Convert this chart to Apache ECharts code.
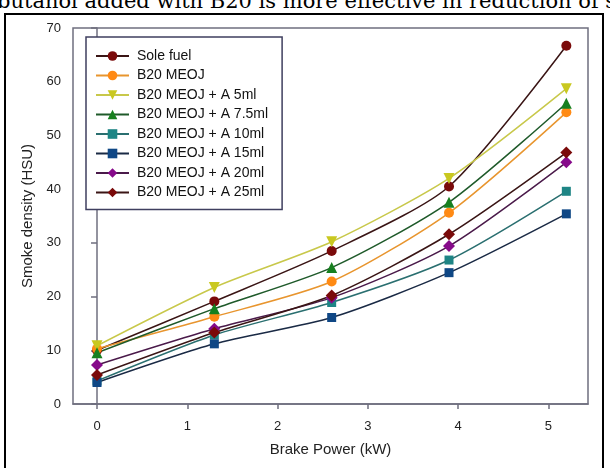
<!DOCTYPE html>
<html>
<head>
<meta charset="utf-8">
<script src="https://cdn.jsdelivr.net/npm/echarts@6/dist/echarts.min.js"></script>
<style>
  html, body { margin: 0; padding: 0; background: #fff; }
  #wrap { position: relative; width: 610px; height: 468px; overflow: hidden; }
  #caption {
    position: absolute; left: -3px; top: -9px; white-space: nowrap; line-height: 21px;
    font-family: "DejaVu Serif", "Liberation Serif", serif; font-size: 21px; color: #000;
  }
  #frame {
    position: absolute; left: 4px; top: 13px; width: 600px; height: 470px;
    border: 2px solid #000; box-sizing: border-box;
  }
  #chart { position: absolute; left: 0; top: 0; width: 610px; height: 468px; }
</style>
</head>
<body>
<div id="wrap">
  <div id="caption">butanol added with B20 is more effective in reduction of smoke</div>
  <div id="frame"></div>
  <div id="chart"></div>
</div>
<script>
// Brake power (kW) at each load step
const brakePower = [0, 1.3, 2.6, 3.9, 5.2];
const xTicks = [0, 1, 2, 3, 4, 5];

// Smoke density (HSU) per fuel blend
const soleFuel = [10.0, 19.1, 28.5, 40.5, 66.7];
const b20Meoj  = [10.3, 16.25, 22.8, 35.6, 54.3];
const a5ml     = [10.85, 21.7, 30.2, 42.0, 58.7];
const a75ml    = [9.55, 17.75, 25.4, 37.55, 56.0];
const a10ml    = [4.3, 12.85, 18.9, 26.8, 39.6];
const a15ml    = [4.0, 11.2, 16.1, 24.45, 35.4];
const a20ml    = [7.26, 14.0, 19.8, 29.4, 45.0];
const a25ml    = [5.4, 13.3, 20.2, 31.6, 46.8];

const seriesNames = [
  'Sole fuel', 'B20 MEOJ', 'B20 MEOJ + A 5ml', 'B20 MEOJ + A 7.5ml',
  'B20 MEOJ + A 10ml', 'B20 MEOJ + A 15ml', 'B20 MEOJ + A 20ml', 'B20 MEOJ + A 25ml'
];
const seriesValues = [soleFuel, b20Meoj, a5ml, a75ml, a10ml, a15ml, a20ml, a25ml];

// marker fill, line colour, symbol, size, rotation
const styles = [
  { mark: '#7a0a0a', line: '#3a1515', symbol: 'circle',   size: 10, rot: 0 },
  { mark: '#ff8a14', line: '#e8952e', symbol: 'circle',   size: 10, rot: 0 },
  { mark: '#c9c820', line: '#c8c84a', symbol: 'triangle', size: 11, rot: 180 },
  { mark: '#17801f', line: '#1f5a2a', symbol: 'triangle', size: 11, rot: 0 },
  { mark: '#1e8585', line: '#2a6f70', symbol: 'rect',     size: 9,  rot: 0 },
  { mark: '#0f4785', line: '#1a2a45', symbol: 'rect',     size: 9,  rot: 0 },
  { mark: '#860a8a', line: '#4a1a4a', symbol: 'diamond',  size: 12, rot: 0 },
  { mark: '#7a0a0a', line: '#3a1515', symbol: 'diamond',  size: 12, rot: 0 }
];

const axisGray = '#6f6f7f';

const series = seriesNames.map((name, i) => ({
  name,
  type: 'line',
  smooth: 0.25,
  symbol: styles[i].symbol,
  symbolSize: styles[i].size,
  symbolRotate: styles[i].rot,
  showAllSymbol: true,
  lineStyle: { color: styles[i].line, width: 1.5 },
  itemStyle: { color: styles[i].mark, borderWidth: 0 },
  emphasis: { disabled: true },
  data: brakePower.map((x, j) => [x, seriesValues[i][j]])
}));

const chart = echarts.init(document.getElementById('chart'), null, { renderer: 'canvas' });
chart.setOption({
  backgroundColor: 'transparent',
  animation: false,
  textStyle: { fontFamily: 'Liberation Sans, Arial, sans-serif' },
  grid: {
    left: 73, right: 22, top: 28, bottom: 64,
    show: true, borderColor: axisGray, borderWidth: 1.5, containLabel: false
  },
  legend: {
    orient: 'vertical',
    left: 86, top: 37,
    padding: [12, 14, 10, 9],
    itemWidth: 33, itemHeight: 12, itemGap: 5.5,
    borderColor: '#3f3f5f', borderWidth: 1.5,
    backgroundColor: '#fff',
    textStyle: { fontSize: 14, color: '#111', padding: [0, 0, 0, 3] },
    data: seriesNames
  },
  xAxis: {
    type: 'value',
    min: -0.266, max: 5.44,
    name: 'Brake Power (kW)',
    nameLocation: 'middle', nameGap: 38,
    nameTextStyle: { fontSize: 15, color: '#222' },
    axisLine: { show: true, lineStyle: { color: axisGray, width: 1.5 } },
    axisTick: { show: true, length: 5, customValues: xTicks, lineStyle: { color: axisGray, width: 1.5 } },
    axisLabel: { customValues: xTicks, margin: 16, fontSize: 13, color: '#222' },
    splitLine: { show: false }
  },
  yAxis: {
    type: 'value',
    min: 0, max: 70, interval: 10,
    name: 'Smoke density (HSU)',
    nameLocation: 'middle', nameGap: 38,
    nameTextStyle: { fontSize: 15, color: '#222' },
    axisLine: { show: true, lineStyle: { color: axisGray, width: 1.5 } },
    axisTick: { show: true, length: 6, lineStyle: { color: axisGray, width: 1.5 } },
    axisLabel: { margin: 12, fontSize: 13, color: '#222' },
    splitLine: { show: false }
  },
  series
});
</script>
</body>
</html>
